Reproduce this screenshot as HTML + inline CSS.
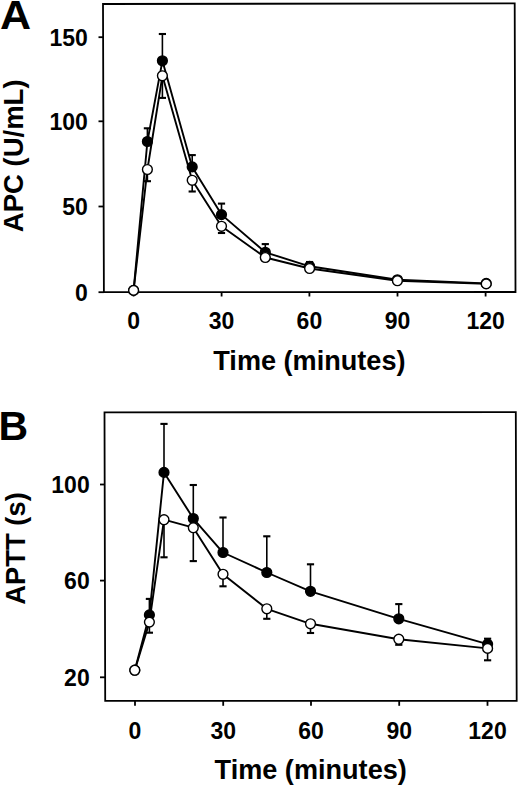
<!DOCTYPE html><html><head><meta charset="utf-8"><style>html,body{margin:0;padding:0;background:#fff;}svg{display:block;}</style></head><body>
<svg width="520" height="786" viewBox="0 0 520 786" font-family='"Liberation Sans", sans-serif' font-weight="bold">
<path d="M103.0,4.0 L514.7,3.3 L515.5,292.0 L103.9,292.1 Z" fill="none" stroke="#000" stroke-width="1.8" stroke-linejoin="miter"/>
<line x1="98.5" y1="292.2" x2="103.90031239153072" y2="292.2" stroke="#000" stroke-width="1.8"/>
<line x1="98.5" y1="206.5" x2="103.63259284970496" y2="206.5" stroke="#000" stroke-width="1.8"/>
<line x1="98.5" y1="121.3" x2="103.3664352655328" y2="121.3" stroke="#000" stroke-width="1.8"/>
<line x1="98.5" y1="37.2" x2="103.10371398819855" y2="37.2" stroke="#000" stroke-width="1.8"/>
<line x1="133.6" y1="292.0" x2="133.6" y2="296.5" stroke="#000" stroke-width="1.8"/>
<line x1="221.6" y1="292.0" x2="221.6" y2="296.5" stroke="#000" stroke-width="1.8"/>
<line x1="309.4" y1="292.0" x2="309.4" y2="296.5" stroke="#000" stroke-width="1.8"/>
<line x1="397.5" y1="292.0" x2="397.5" y2="296.5" stroke="#000" stroke-width="1.8"/>
<line x1="485.6" y1="292.0" x2="485.6" y2="296.5" stroke="#000" stroke-width="1.8"/>
<line x1="147.4" y1="141.5" x2="147.4" y2="128.3" stroke="#000" stroke-width="1.6"/>
<line x1="143.8" y1="128.3" x2="151.0" y2="128.3" stroke="#000" stroke-width="2.1"/>
<line x1="147.4" y1="169.5" x2="147.4" y2="181.2" stroke="#000" stroke-width="1.6"/>
<line x1="143.8" y1="181.2" x2="151.0" y2="181.2" stroke="#000" stroke-width="2.1"/>
<line x1="162.4" y1="60.8" x2="162.4" y2="34.0" stroke="#000" stroke-width="1.6"/>
<line x1="158.8" y1="34.0" x2="166.0" y2="34.0" stroke="#000" stroke-width="2.1"/>
<line x1="162.4" y1="75.8" x2="162.4" y2="97.9" stroke="#000" stroke-width="1.6"/>
<line x1="158.8" y1="97.9" x2="166.0" y2="97.9" stroke="#000" stroke-width="2.1"/>
<line x1="192.2" y1="166.9" x2="192.2" y2="155.1" stroke="#000" stroke-width="1.6"/>
<line x1="188.6" y1="155.1" x2="195.79999999999998" y2="155.1" stroke="#000" stroke-width="2.1"/>
<line x1="192.2" y1="180.3" x2="192.2" y2="191.5" stroke="#000" stroke-width="1.6"/>
<line x1="188.6" y1="191.5" x2="195.79999999999998" y2="191.5" stroke="#000" stroke-width="2.1"/>
<line x1="221.5" y1="214.6" x2="221.5" y2="203.6" stroke="#000" stroke-width="1.6"/>
<line x1="217.9" y1="203.6" x2="225.1" y2="203.6" stroke="#000" stroke-width="2.1"/>
<line x1="221.5" y1="226.3" x2="221.5" y2="233.0" stroke="#000" stroke-width="1.6"/>
<line x1="217.9" y1="233.0" x2="225.1" y2="233.0" stroke="#000" stroke-width="2.1"/>
<line x1="265.3" y1="252.3" x2="265.3" y2="244.1" stroke="#000" stroke-width="1.6"/>
<line x1="261.7" y1="244.1" x2="268.90000000000003" y2="244.1" stroke="#000" stroke-width="2.1"/>
<line x1="265.3" y1="257.5" x2="265.3" y2="261.0" stroke="#000" stroke-width="1.6"/>
<line x1="261.7" y1="261.0" x2="268.90000000000003" y2="261.0" stroke="#000" stroke-width="2.1"/>
<line x1="309.6" y1="266.3" x2="309.6" y2="262.0" stroke="#000" stroke-width="1.6"/>
<line x1="306.0" y1="262.0" x2="313.20000000000005" y2="262.0" stroke="#000" stroke-width="2.1"/>
<line x1="309.6" y1="268.5" x2="309.6" y2="271.0" stroke="#000" stroke-width="1.6"/>
<line x1="306.0" y1="271.0" x2="313.20000000000005" y2="271.0" stroke="#000" stroke-width="2.1"/>
<line x1="397.4" y1="279.8" x2="397.4" y2="278.0" stroke="#000" stroke-width="1.6"/>
<line x1="393.79999999999995" y1="278.0" x2="401.0" y2="278.0" stroke="#000" stroke-width="2.1"/>
<line x1="397.4" y1="280.7" x2="397.4" y2="283.0" stroke="#000" stroke-width="1.6"/>
<line x1="393.79999999999995" y1="283.0" x2="401.0" y2="283.0" stroke="#000" stroke-width="2.1"/>
<line x1="486.2" y1="283.4" x2="486.2" y2="282.0" stroke="#000" stroke-width="1.6"/>
<line x1="482.59999999999997" y1="282.0" x2="489.8" y2="282.0" stroke="#000" stroke-width="2.1"/>
<line x1="486.2" y1="283.9" x2="486.2" y2="286.0" stroke="#000" stroke-width="1.6"/>
<line x1="482.59999999999997" y1="286.0" x2="489.8" y2="286.0" stroke="#000" stroke-width="2.1"/>
<path d="M133.6,290.4 L147.4,141.5 L162.4,60.8 L192.2,166.9 L221.5,214.6 L265.3,252.3 L309.6,266.3 L397.4,279.8 L486.2,283.4" fill="none" stroke="#000" stroke-width="1.9" stroke-linejoin="round"/>
<path d="M133.6,290.4 L147.4,169.5 L162.4,75.8 L192.2,180.3 L221.5,226.3 L265.3,257.5 L309.6,268.5 L397.4,280.7 L486.2,283.9" fill="none" stroke="#000" stroke-width="1.9" stroke-linejoin="round"/>
<circle cx="133.6" cy="290.4" r="4.9" fill="#000" stroke="#000" stroke-width="1.4"/>
<circle cx="147.4" cy="141.5" r="4.9" fill="#000" stroke="#000" stroke-width="1.4"/>
<circle cx="162.4" cy="60.8" r="4.9" fill="#000" stroke="#000" stroke-width="1.4"/>
<circle cx="192.2" cy="166.9" r="4.9" fill="#000" stroke="#000" stroke-width="1.4"/>
<circle cx="221.5" cy="214.6" r="4.9" fill="#000" stroke="#000" stroke-width="1.4"/>
<circle cx="265.3" cy="252.3" r="4.9" fill="#000" stroke="#000" stroke-width="1.4"/>
<circle cx="309.6" cy="266.3" r="4.9" fill="#000" stroke="#000" stroke-width="1.4"/>
<circle cx="397.4" cy="279.8" r="4.9" fill="#000" stroke="#000" stroke-width="1.4"/>
<circle cx="486.2" cy="283.4" r="4.9" fill="#000" stroke="#000" stroke-width="1.4"/>
<circle cx="133.6" cy="290.4" r="4.9" fill="#fff" stroke="#000" stroke-width="1.4"/>
<circle cx="147.4" cy="169.5" r="4.9" fill="#fff" stroke="#000" stroke-width="1.4"/>
<circle cx="162.4" cy="75.8" r="4.9" fill="#fff" stroke="#000" stroke-width="1.4"/>
<circle cx="192.2" cy="180.3" r="4.9" fill="#fff" stroke="#000" stroke-width="1.4"/>
<circle cx="221.5" cy="226.3" r="4.9" fill="#fff" stroke="#000" stroke-width="1.4"/>
<circle cx="265.3" cy="257.5" r="4.9" fill="#fff" stroke="#000" stroke-width="1.4"/>
<circle cx="309.6" cy="268.5" r="4.9" fill="#fff" stroke="#000" stroke-width="1.4"/>
<circle cx="397.4" cy="280.7" r="4.9" fill="#fff" stroke="#000" stroke-width="1.4"/>
<circle cx="486.2" cy="283.9" r="4.9" fill="#fff" stroke="#000" stroke-width="1.4"/>
<text x="87.8" y="300.5" font-size="23" text-anchor="end" >0</text>
<text x="87.8" y="214.8" font-size="23" text-anchor="end" >50</text>
<text x="87.8" y="129.6" font-size="23" text-anchor="end" >100</text>
<text x="87.8" y="45.5" font-size="23" text-anchor="end" >150</text>
<text x="133.6" y="329.1" font-size="23" text-anchor="middle" >0</text>
<text x="221.6" y="329.1" font-size="23" text-anchor="middle" >30</text>
<text x="309.4" y="329.1" font-size="23" text-anchor="middle" >60</text>
<text x="397.5" y="329.1" font-size="23" text-anchor="middle" >90</text>
<text x="485.6" y="329.1" font-size="23" text-anchor="middle" >120</text>
<text x="309.4" y="369.8" font-size="27.1" text-anchor="middle" >Time (minutes)</text>
<text x="22.7" y="155.8" font-size="27.5" text-anchor="middle" transform="rotate(-90 22.7 155.8)">APC (U/mL)</text>
<text x="-0.5" y="29.3" font-size="41" text-anchor="start" transform="translate(0.4 0) scale(1.05 1)">A</text>
<path d="M104.5,412.3 L515.8,412.1 L516.7,700.8 L105.2,700.8 Z" fill="none" stroke="#000" stroke-width="1.8" stroke-linejoin="miter"/>
<line x1="100.0" y1="677.3" x2="105.14298093587522" y2="677.3" stroke="#000" stroke-width="1.8"/>
<line x1="100.0" y1="580.6" x2="104.90835355285962" y2="580.6" stroke="#000" stroke-width="1.8"/>
<line x1="100.0" y1="484.5" x2="104.67518197573656" y2="484.5" stroke="#000" stroke-width="1.8"/>
<line x1="135.0" y1="700.8" x2="135.0" y2="705.8" stroke="#000" stroke-width="1.8"/>
<line x1="223.2" y1="700.8" x2="223.2" y2="705.8" stroke="#000" stroke-width="1.8"/>
<line x1="311.0" y1="700.8" x2="311.0" y2="705.8" stroke="#000" stroke-width="1.8"/>
<line x1="399.2" y1="700.8" x2="399.2" y2="705.8" stroke="#000" stroke-width="1.8"/>
<line x1="487.5" y1="700.8" x2="487.5" y2="705.8" stroke="#000" stroke-width="1.8"/>
<line x1="149.4" y1="614.9" x2="149.4" y2="598.9" stroke="#000" stroke-width="1.6"/>
<line x1="145.8" y1="598.9" x2="153.0" y2="598.9" stroke="#000" stroke-width="2.1"/>
<line x1="149.4" y1="622.1" x2="149.4" y2="632.7" stroke="#000" stroke-width="1.6"/>
<line x1="145.8" y1="632.7" x2="153.0" y2="632.7" stroke="#000" stroke-width="2.1"/>
<line x1="164.0" y1="472.4" x2="164.0" y2="423.9" stroke="#000" stroke-width="1.6"/>
<line x1="160.4" y1="423.9" x2="167.6" y2="423.9" stroke="#000" stroke-width="2.1"/>
<line x1="164.0" y1="519.7" x2="164.0" y2="557.3" stroke="#000" stroke-width="1.6"/>
<line x1="160.4" y1="557.3" x2="167.6" y2="557.3" stroke="#000" stroke-width="2.1"/>
<line x1="193.3" y1="518.5" x2="193.3" y2="485.0" stroke="#000" stroke-width="1.6"/>
<line x1="189.70000000000002" y1="485.0" x2="196.9" y2="485.0" stroke="#000" stroke-width="2.1"/>
<line x1="193.3" y1="527.7" x2="193.3" y2="561.1" stroke="#000" stroke-width="1.6"/>
<line x1="189.70000000000002" y1="561.1" x2="196.9" y2="561.1" stroke="#000" stroke-width="2.1"/>
<line x1="223.0" y1="552.5" x2="223.0" y2="517.5" stroke="#000" stroke-width="1.6"/>
<line x1="219.4" y1="517.5" x2="226.6" y2="517.5" stroke="#000" stroke-width="2.1"/>
<line x1="223.0" y1="574.3" x2="223.0" y2="586.3" stroke="#000" stroke-width="1.6"/>
<line x1="219.4" y1="586.3" x2="226.6" y2="586.3" stroke="#000" stroke-width="2.1"/>
<line x1="266.8" y1="572.5" x2="266.8" y2="536.3" stroke="#000" stroke-width="1.6"/>
<line x1="263.2" y1="536.3" x2="270.40000000000003" y2="536.3" stroke="#000" stroke-width="2.1"/>
<line x1="266.8" y1="608.8" x2="266.8" y2="618.8" stroke="#000" stroke-width="1.6"/>
<line x1="263.2" y1="618.8" x2="270.40000000000003" y2="618.8" stroke="#000" stroke-width="2.1"/>
<line x1="310.5" y1="591.3" x2="310.5" y2="564.3" stroke="#000" stroke-width="1.6"/>
<line x1="306.9" y1="564.3" x2="314.1" y2="564.3" stroke="#000" stroke-width="2.1"/>
<line x1="310.5" y1="623.8" x2="310.5" y2="633.0" stroke="#000" stroke-width="1.6"/>
<line x1="306.9" y1="633.0" x2="314.1" y2="633.0" stroke="#000" stroke-width="2.1"/>
<line x1="398.8" y1="618.8" x2="398.8" y2="604.1" stroke="#000" stroke-width="1.6"/>
<line x1="395.2" y1="604.1" x2="402.40000000000003" y2="604.1" stroke="#000" stroke-width="2.1"/>
<line x1="398.8" y1="639.2" x2="398.8" y2="644.8" stroke="#000" stroke-width="1.6"/>
<line x1="395.2" y1="644.8" x2="402.40000000000003" y2="644.8" stroke="#000" stroke-width="2.1"/>
<line x1="487.6" y1="644.1" x2="487.6" y2="638.7" stroke="#000" stroke-width="1.6"/>
<line x1="484.0" y1="638.7" x2="491.20000000000005" y2="638.7" stroke="#000" stroke-width="2.1"/>
<line x1="487.6" y1="648.4" x2="487.6" y2="660.3" stroke="#000" stroke-width="1.6"/>
<line x1="484.0" y1="660.3" x2="491.20000000000005" y2="660.3" stroke="#000" stroke-width="2.1"/>
<path d="M134.8,670.2 L149.4,614.9 L164.0,472.4 L193.3,518.5 L223.0,552.5 L266.8,572.5 L310.5,591.3 L398.8,618.8 L487.6,644.1" fill="none" stroke="#000" stroke-width="1.9" stroke-linejoin="round"/>
<path d="M134.8,670.2 L149.4,622.1 L164.0,519.7 L193.3,527.7 L223.0,574.3 L266.8,608.8 L310.5,623.8 L398.8,639.2 L487.6,648.4" fill="none" stroke="#000" stroke-width="1.9" stroke-linejoin="round"/>
<circle cx="134.8" cy="670.2" r="4.9" fill="#000" stroke="#000" stroke-width="1.4"/>
<circle cx="149.4" cy="614.9" r="4.9" fill="#000" stroke="#000" stroke-width="1.4"/>
<circle cx="164.0" cy="472.4" r="4.9" fill="#000" stroke="#000" stroke-width="1.4"/>
<circle cx="193.3" cy="518.5" r="4.9" fill="#000" stroke="#000" stroke-width="1.4"/>
<circle cx="223.0" cy="552.5" r="4.9" fill="#000" stroke="#000" stroke-width="1.4"/>
<circle cx="266.8" cy="572.5" r="4.9" fill="#000" stroke="#000" stroke-width="1.4"/>
<circle cx="310.5" cy="591.3" r="4.9" fill="#000" stroke="#000" stroke-width="1.4"/>
<circle cx="398.8" cy="618.8" r="4.9" fill="#000" stroke="#000" stroke-width="1.4"/>
<circle cx="487.6" cy="644.1" r="4.9" fill="#000" stroke="#000" stroke-width="1.4"/>
<circle cx="134.8" cy="670.2" r="4.9" fill="#fff" stroke="#000" stroke-width="1.4"/>
<circle cx="149.4" cy="622.1" r="4.9" fill="#fff" stroke="#000" stroke-width="1.4"/>
<circle cx="164.0" cy="519.7" r="4.9" fill="#fff" stroke="#000" stroke-width="1.4"/>
<circle cx="193.3" cy="527.7" r="4.9" fill="#fff" stroke="#000" stroke-width="1.4"/>
<circle cx="223.0" cy="574.3" r="4.9" fill="#fff" stroke="#000" stroke-width="1.4"/>
<circle cx="266.8" cy="608.8" r="4.9" fill="#fff" stroke="#000" stroke-width="1.4"/>
<circle cx="310.5" cy="623.8" r="4.9" fill="#fff" stroke="#000" stroke-width="1.4"/>
<circle cx="398.8" cy="639.2" r="4.9" fill="#fff" stroke="#000" stroke-width="1.4"/>
<circle cx="487.6" cy="648.4" r="4.9" fill="#fff" stroke="#000" stroke-width="1.4"/>
<text x="89.7" y="685.5999999999999" font-size="23" text-anchor="end" >20</text>
<text x="89.7" y="588.9" font-size="23" text-anchor="end" >60</text>
<text x="89.7" y="492.8" font-size="23" text-anchor="end" >100</text>
<text x="135.0" y="738.8" font-size="23" text-anchor="middle" >0</text>
<text x="223.2" y="738.8" font-size="23" text-anchor="middle" >30</text>
<text x="311.0" y="738.8" font-size="23" text-anchor="middle" >60</text>
<text x="399.2" y="738.8" font-size="23" text-anchor="middle" >90</text>
<text x="487.5" y="738.8" font-size="23" text-anchor="middle" >120</text>
<text x="310.7" y="779.2" font-size="27.1" text-anchor="middle" >Time (minutes)</text>
<text x="24.7" y="548.5" font-size="27.4" text-anchor="middle" transform="rotate(-90 24.7 548.5)">APTT (s)</text>
<text x="-1.4" y="439.7" font-size="41" text-anchor="start" >B</text>
</svg></body></html>
